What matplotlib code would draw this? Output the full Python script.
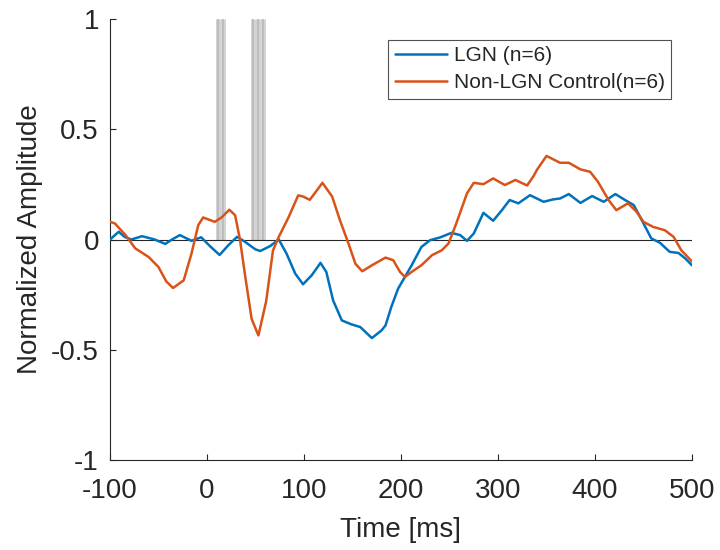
import matplotlib
matplotlib.use("Agg")
import matplotlib.pyplot as plt

# values
lgn_t = [-100, -91, -85, -78, -67, -54, -43, -36, -28, -16, -6, 3, 13, 22, 31, 39,
         50, 55, 65, 74, 82, 91, 99, 108, 117, 123, 130, 139, 149, 158, 170, 180,
         184, 190, 197, 204, 211, 221, 230, 240, 252, 261, 268, 275, 285, 295, 304,
         312, 321, 333, 347, 357, 364, 373, 385, 397, 409, 421, 431, 440, 450, 458,
         467, 477, 486, 493, 500]
lgn_v = [0.0, 0.035, 0.012, 0.0, 0.015, 0.0, -0.02, 0.0, 0.02, -0.006, 0.01, -0.03,
         -0.07, -0.026, 0.012, -0.01, -0.045, -0.052, -0.03, 0.0, -0.064, -0.155,
         -0.203, -0.162, -0.106, -0.147, -0.276, -0.367, -0.385, -0.397, -0.447,
         -0.412, -0.39, -0.306, -0.223, -0.17, -0.117, -0.034, -0.003, 0.009, 0.03,
         0.02, -0.006, 0.027, 0.121, 0.085, 0.133, 0.179, 0.164, 0.201, 0.171, 0.182,
         0.186, 0.206, 0.166, 0.197, 0.171, 0.206, 0.179, 0.156, 0.073, 0.005,
         -0.015, -0.056, -0.061, -0.086, -0.117]

ctrl_t = [-100, -95, -84, -74, -60, -50, -42, -35, -24, -16, -9, -4, 8, 15, 23, 29,
          34, 39, 46, 53, 61, 68, 74, 84, 94, 99, 106, 119, 129, 137, 146, 153, 160,
          170, 184, 192, 199, 204, 211, 221, 232, 242, 249, 257, 268, 275, 285, 295,
          307, 318, 330, 337, 340, 350, 364, 373, 385, 395, 403, 414, 422, 434, 443,
          450, 460, 472, 481, 489, 500]
ctrl_v = [0.08, 0.073, 0.02, -0.04, -0.08, -0.125, -0.19, -0.22, -0.185, -0.064,
          0.065, 0.10, 0.08, 0.10, 0.135, 0.11, 0.0, -0.155, -0.36, -0.435, -0.28,
          -0.05, 0.012, 0.10, 0.20, 0.195, 0.18, 0.257, 0.195, 0.088, -0.02, -0.11,
          -0.144, -0.117, -0.082, -0.094, -0.147, -0.17, -0.147, -0.117, -0.071,
          -0.049, -0.018, 0.073, 0.209, 0.257, 0.251, 0.277, 0.247, 0.27, 0.245,
          0.29, 0.315, 0.379, 0.348, 0.348, 0.318, 0.307, 0.262, 0.179, 0.133, 0.164,
          0.125, 0.08, 0.057, 0.042, 0.012, -0.049, -0.10]

# significant time points (grey bars)
sig_t = [11.6, 16.8, 47.1, 52.2, 57.4]

plt.rcParams["font.family"] = ["Liberation Sans", "DejaVu Sans"]
txt = "#262626"

fig = plt.figure(figsize=(7.2, 5.5), dpi=100)
ax = fig.add_axes([110 / 720, 1 - 460 / 550, 582 / 720, 441 / 550])

ax.vlines(sig_t, 0, 1, color="#d3d3d3", lw=3.6, zorder=1)
ax.vlines(sig_t, 0, 1, color="#bdbdbd", lw=1.4, zorder=1)
ax.axhline(0, color=txt, lw=0.8, zorder=2)

ax.plot(lgn_t, lgn_v, color="#0072BD", lw=1.8, label="LGN (n=6)",
        solid_joinstyle="round", solid_capstyle="round", zorder=3)
ax.plot(ctrl_t, ctrl_v, color="#D95319", lw=1.8, label="Non-LGN Control(n=6)",
        solid_joinstyle="round", solid_capstyle="round", zorder=3)

ax.set_xlim(-100, 500)
ax.set_ylim(-1, 1)
ax.set_xticks([-100, 0, 100, 200, 300, 400, 500])
ax.set_yticks([-1, -0.5, 0, 0.5, 1])
ax.set_yticklabels(["-1", "-0.5", "0", "0.5", "1"])
ax.set_xticklabels(["-100", "0", "100", "200", "300", "400", "500"])

for s in ["top", "right"]:
    ax.spines[s].set_visible(False)
for s in ["left", "bottom"]:
    ax.spines[s].set_color(txt)
    ax.spines[s].set_linewidth(0.8)
ax.tick_params(direction="in", length=4, width=0.8, colors=txt, labelsize=20)
ax.tick_params(axis="x", pad=13)
ax.tick_params(axis="y", pad=8)

ax.set_xlabel("Time [ms]", fontsize=20, color=txt, labelpad=9)
ax.set_ylabel("Normalized Amplitude", fontsize=20, color=txt, labelpad=6)

leg = ax.legend(loc="upper right", fontsize=15, frameon=True, fancybox=False,
                edgecolor=txt, handlelength=2.5, handletextpad=0.35,
                borderaxespad=1.0, labelspacing=0.4, borderpad=0.3)
leg.get_frame().set_linewidth(0.8)
for t in leg.get_texts():
    t.set_color(txt)

fig.savefig("out.png", dpi=100)
